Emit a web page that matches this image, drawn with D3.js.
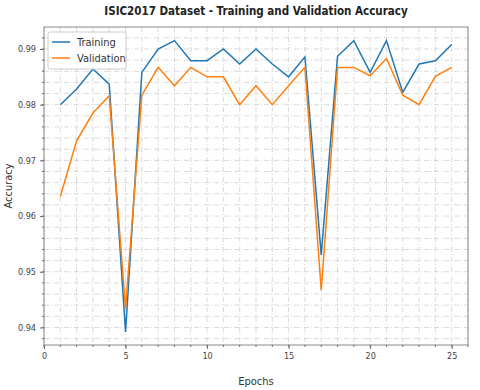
<!DOCTYPE html>
<html>
<head>
<meta charset="utf-8">
<script src="https://cdn.jsdelivr.net/npm/d3@7"></script>
<style>
    body { margin: 0; background: #fff; }
    text { font-family: "DejaVu Sans Condensed", "DejaVu Sans", sans-serif; font-stretch: condensed; }
</style>
</head>
<body>
<div class="chart"></div>
<script>
var epochs = [1, 2, 3, 4, 5, 6, 7, 8, 9, 10, 11, 12, 13, 14, 15, 16, 17, 18, 19, 20, 21, 22, 23, 24, 25];
var training = [0.9800, 0.9828, 0.9864, 0.9837, 0.9392, 0.9858, 0.9900, 0.9915, 0.9879, 0.9879,
                0.9900, 0.9873, 0.9900, 0.9873, 0.9850, 0.9886, 0.9530, 0.9887, 0.9915, 0.9858,
                0.9915, 0.9822, 0.9873, 0.9879, 0.9908];
var validation = [0.9635, 0.9735, 0.9785, 0.9816, 0.9434, 0.9817, 0.9867, 0.9834, 0.9867, 0.9850,
                  0.9850, 0.9800, 0.9834, 0.9800, 0.9834, 0.9867, 0.9467, 0.9867, 0.9867, 0.9852,
                  0.9883, 0.9817, 0.9800, 0.9851, 0.9867];
var xTicks = [0, 5, 10, 15, 20, 25];
var yTicks = [0.94, 0.95, 0.96, 0.97, 0.98, 0.99];

var margin = { top: 27, right: 12, bottom: 45, left: 44 };
var fullWidth = 480;
var fullHeight = 390;
var width = fullWidth - margin.left - margin.right;
var height = fullHeight - margin.top - margin.bottom;

var svg = d3.select('.chart')
            .append('svg')
            .attr('width', fullWidth)
            .attr('height', fullHeight);

var g = svg.append('g')
           .attr('transform', 'translate(' + margin.left + ',' + margin.top + ')');

var x = d3.scaleLinear().domain([0, 26]).range([0, width]);
var y = d3.scaleLinear().domain([0.93685, 0.99395]).range([height, 0]);

// minor grid, every epoch and every 0.002
var xMinor = d3.range(0, 26.01, 1);
var yMinor = d3.range(0.938, 0.9939, 0.002);

g.selectAll('.vgrid')
 .data(xMinor)
 .enter().append('line')
 .attr('x1', function (d) { return x(d); })
 .attr('x2', function (d) { return x(d); })
 .attr('y1', 0)
 .attr('y2', height)
 .attr('stroke', '#d0d0d0')
 .attr('stroke-width', 0.8)
 .attr('stroke-dasharray', '5,2,1,2');

g.selectAll('.hgrid')
 .data(yMinor)
 .enter().append('line')
 .attr('x1', 0)
 .attr('x2', width)
 .attr('y1', function (d) { return y(d); })
 .attr('y2', function (d) { return y(d); })
 .attr('stroke', '#d0d0d0')
 .attr('stroke-width', 0.8)
 .attr('stroke-dasharray', '5,2,1,2');

// axes
var xAxis = d3.axisBottom(x).tickValues(xTicks).tickFormat(d3.format('d')).tickSize(4).tickPadding(4);
var yAxis = d3.axisLeft(y).tickValues(yTicks).tickFormat(d3.format('.2f')).tickSize(4).tickPadding(4);

var gx = g.append('g').attr('transform', 'translate(0,' + height + ')').call(xAxis);
var gy = g.append('g').call(yAxis);

[gx, gy].forEach(function (a) {
    a.select('.domain').remove();
    a.selectAll('line').attr('stroke', '#666');
    a.selectAll('text').attr('fill', '#444').style('font-size', '9px');
});

// minor ticks
g.selectAll('.xminor')
 .data(xMinor)
 .enter().append('line')
 .attr('x1', function (d) { return x(d); })
 .attr('x2', function (d) { return x(d); })
 .attr('y1', height)
 .attr('y2', height + 2)
 .attr('stroke', '#666');

g.selectAll('.yminor')
 .data(yMinor)
 .enter().append('line')
 .attr('x1', -2)
 .attr('x2', 0)
 .attr('y1', function (d) { return y(d); })
 .attr('y2', function (d) { return y(d); })
 .attr('stroke', '#666');

// frame
g.append('rect')
 .attr('width', width)
 .attr('height', height)
 .attr('fill', 'none')
 .attr('stroke', '#888')
 .attr('stroke-width', 1);

// lines
var line = function (vals) {
    return d3.line()
             .x(function (d, i) { return x(epochs[i]); })
             .y(function (d) { return y(d); })(vals);
};

g.append('path')
 .attr('d', line(training))
 .attr('fill', 'none')
 .attr('stroke', '#1f77b4')
 .attr('stroke-width', 1.5);

g.append('path')
 .attr('d', line(validation))
 .attr('fill', 'none')
 .attr('stroke', '#ff7f0e')
 .attr('stroke-width', 1.5);

// legend
var legend = g.append('g').attr('transform', 'translate(4,5)');
legend.append('rect')
      .attr('width', 78)
      .attr('height', 37)
      .attr('rx', 2)
      .attr('fill', '#fff')
      .attr('fill-opacity', 0.85)
      .attr('stroke', '#ccc');

var series = [
    { name: 'Training', color: '#1f77b4' },
    { name: 'Validation', color: '#ff7f0e' }
];
series.forEach(function (s, i) {
    var yy = 10 + i * 16;
    legend.append('line')
          .attr('x1', 4).attr('x2', 22)
          .attr('y1', yy).attr('y2', yy)
          .attr('stroke', s.color)
          .attr('stroke-width', 1.5);
    legend.append('text')
          .attr('x', 29).attr('y', yy + 4)
          .attr('fill', '#333')
          .style('font-size', '11px')
          .text(s.name);
});

// titles
svg.append('text')
   .attr('x', margin.left + width / 2)
   .attr('y', 15)
   .attr('text-anchor', 'middle')
   .attr('fill', '#222')
   .style('font-size', '11.5px')
   .style('font-weight', 'bold')
   .text('ISIC2017 Dataset - Training and Validation Accuracy');

svg.append('text')
   .attr('x', margin.left + width / 2)
   .attr('y', 385)
   .attr('text-anchor', 'middle')
   .attr('fill', '#333')
   .style('font-size', '11px')
   .text('Epochs');

svg.append('text')
   .attr('transform', 'translate(12,' + (margin.top + height / 2) + ') rotate(-90)')
   .attr('text-anchor', 'middle')
   .attr('fill', '#333')
   .style('font-size', '11px')
   .text('Accuracy');
</script>
</body>
</html>
